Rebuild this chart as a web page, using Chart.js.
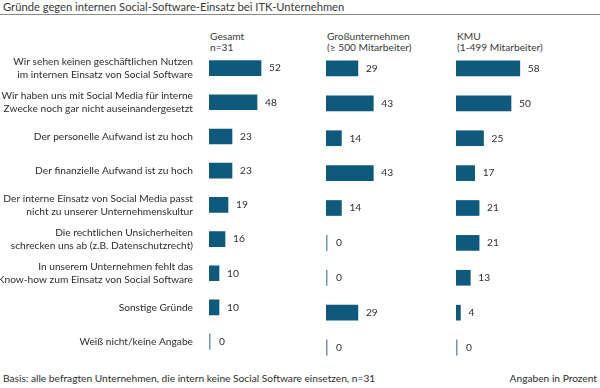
<!DOCTYPE html>
<html>
<head>
<meta charset="utf-8">
<script src="https://cdn.jsdelivr.net/npm/chart.js@4.4.1/dist/chart.umd.min.js"></script>
<style>
  body { margin: 0; width: 600px; height: 388px; background: #fff; position: relative; overflow: hidden;
         font-family: Lato, "Noto Sans", sans-serif; color: #333; }
  .title { position: absolute; left: 3px; top: 0; font-size: 11.2px; line-height: 14px; color: #3a3a3a; }
  .rule { position: absolute; left: 0; top: 14px; width: 600px; height: 1px; background: #8a8a8a; }
  .head { position: absolute; top: 31px; font-size: 10.2px; line-height: 10.5px; color: #3a3a3a; }
  .foot { position: absolute; top: 372px; font-size: 10.2px; line-height: 12px; color: #2e2e2e; }
  canvas { position: absolute; top: 0; }
</style>
</head>
<body>
<div class="title">Gründe gegen internen Social-Software-Einsatz bei ITK-Unternehmen</div>
<div class="rule"></div>
<div class="head" style="left:210px">Gesamt<br>n=31</div>
<div class="head" style="left:327px">Großunternehmen<br>(≥ 500 Mitarbeiter)</div>
<div class="head" style="left:457px">KMU<br>(1-499 Mitarbeiter)</div>
<div class="foot" style="left:3px">Basis: alle befragten Unternehmen, die intern keine Social Software einsetzen, n=31</div>
<div class="foot" style="right:3px">Angaben in Prozent</div>

<div style="position:absolute;left:0;top:0;width:309px;height:388px"><canvas id="c1"></canvas></div>
<div style="position:absolute;left:326px;top:0;width:110px;height:388px"><canvas id="c2"></canvas></div>
<div style="position:absolute;left:456px;top:0;width:110px;height:388px"><canvas id="c3"></canvas></div>

<script>
// ─── DATA ─────────────────────────────────────────────────────────
const categories = [
    ['Wir sehen keinen geschäftlichen Nutzen', 'im internen Einsatz von Social Software'],
    ['Wir haben uns mit Social Media für interne', 'Zwecke noch gar nicht auseinandergesetzt'],
    'Der personelle Aufwand ist zu hoch',
    'Der finanzielle Aufwand ist zu hoch',
    ['Der interne Einsatz von Social Media passt', 'nicht zu unserer Unternehmenskultur'],
    ['Die rechtlichen Unsicherheiten', 'schrecken uns ab (z.B. Datenschutzrecht)'],
    ['In unserem Unternehmen fehlt das', 'Know-how zum Einsatz von Social Software'],
    'Sonstige Gründe',
    'Weiß nicht/keine Angabe'
];
const gesamt = [52, 48, 23, 23, 19, 16, 10, 10, 0];
const gross  = [29, 43, 14, 43, 14,  0,  0, 29, 0];
const kmu    = [58, 50, 25, 17, 21, 21, 13,  4, 0];

const BAR = '#0d5a7c';
const ZERO = '#6f96aa';
const FONT = 'Lato, "Noto Sans", sans-serif';

// ─── VALUE LABELS + ZERO MARKERS ──────────────────────────────────
const valueLabels = {
    id: 'valueLabels',
    afterDatasetsDraw(chart) {
        const ctx = chart.ctx;
        const vals = chart.data.datasets[0].data;
        ctx.save();
        ctx.font = '10.2px ' + FONT;
        ctx.textBaseline = 'middle';
        chart.getDatasetMeta(0).data.forEach((bar, i) => {
            const v = vals[i];
            if (v === 0) {
                // zero answers: thin marker instead of a bar
                ctx.fillStyle = ZERO;
                ctx.fillRect(bar.base, bar.y - 8, 1.5, 16);
                ctx.fillStyle = '#2e2e2e';
                ctx.fillText('0', bar.base + 10, bar.y);
            } else {
                ctx.fillStyle = '#2e2e2e';
                ctx.fillText(String(v), bar.x + 8, bar.y);
            }
        });
        ctx.restore();
    }
};

function buildBars(canvasId, values, withLabels) {
    return new Chart(document.getElementById(canvasId), {
        type: 'bar',
        data: {
            labels: categories,
            datasets: [{ data: values, backgroundColor: BAR, barThickness: 15, borderWidth: 0 }]
        },
        options: {
            indexAxis: 'y',
            responsive: true, maintainAspectRatio: false,
            animation: false,
            layout: { padding: { top: 51, bottom: 23, left: 0, right: 0 } },
            plugins: { legend: { display: false }, tooltip: { enabled: false } },
            scales: {
                x: { display: false, min: 0, max: 100 },
                y: {
                    display: withLabels,
                    grid: { display: false, drawTicks: false },
                    border: { display: false },
                    ticks: {
                        padding: 16,
                        color: '#2e2e2e',
                        font: { family: FONT, size: 10.2, lineHeight: 1.3 }
                    },
                    // fixed label column so the bars start at x=209
                    afterFit: s => { if (withLabels) s.width = 209; }
                }
            }
        },
        plugins: [valueLabels]
    });
}

buildBars('c1', gesamt, true);
buildBars('c2', gross, false);
buildBars('c3', kmu, false);
</script>
</body>
</html>
